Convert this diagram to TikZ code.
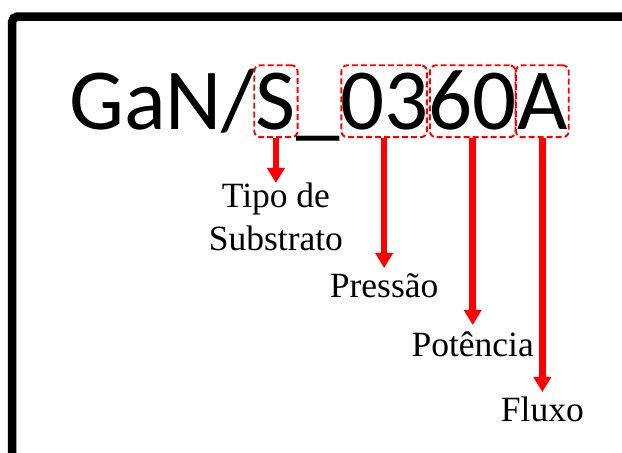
\documentclass[tikz,border=0pt]{standalone}
\usepackage{fontspec}
\setmainfont{Liberation Serif}
\newfontfamily\calib{Carlito}
\usetikzlibrary{arrows.meta,fit}
\tikzset{
  mainch/.style={inner sep=0pt, anchor=base west, text height=62pt, text depth=4.5pt,
    font=\calib\fontsize{87}{87}\selectfont},
  dashbox/.style={draw=red, line width=1.9pt, dash pattern=on 6pt off 3pt,
    rounded corners=6pt, inner xsep=1.5pt, inner ysep=2.5pt},
  lbl/.style={inner sep=0pt, align=center, font=\fontsize{35.5}{43}\selectfont},
  redarrow/.style={draw=red, line width=6.5pt, -{Triangle[width=17pt,length=15pt]}}
}
\begin{document}
\begin{tikzpicture}[x=1pt,y=1pt]
\useasboundingbox (0,0) rectangle (622,453);
\draw[line width=8.5pt, rounded corners=5pt] (12.2,-10) -- (12.2,436.3) -- (640,436.3);
% main text chain
\node[mainch] (gan) at (69,323) {GaN/};
\node[mainch] (s) at (gan.base east) {S};
\node[mainch] (us) at (s.base east) {\_};
\node[mainch] (p03) at (us.base east) {03};
\node[mainch] (p60) at (p03.base east) {60};
\node[mainch] (a) at (p60.base east) {A};
% dashed boxes
\node[dashbox, fit=(s)] (sbox) {};
\node[dashbox, fit=(p03), inner xsep=-1.5pt] (b03) {};
\node[dashbox, fit=(p60), inner xsep=-1.5pt] (b60) {};
\node[dashbox, fit=(a), inner xsep=1pt] (abox) {};
% labels
\node[lbl, anchor=north] (tipo) at (sbox.south |- 0,270) {Tipo de\\Substrato};
\node[lbl, anchor=base] (pres) at (b03.south |- 0,155) {Pressão};
\node[lbl, anchor=base] (pot) at (b60.south |- 0,96) {Potência};
\node[lbl, anchor=base] (flx) at (abox.south |- 0,31) {Fluxo};
\coordinate (tpres) at (b03.south |- 0,185);
\coordinate (tpot) at (b60.south |- 0,128);
\coordinate (tflx) at (abox.south |- 0,61);
% arrows
\draw[redarrow] (sbox.south) -- (tipo.north);
\draw[redarrow] (b03.south) -- (tpres);
\draw[redarrow] (b60.south) -- (tpot);
\draw[redarrow] (abox.south) -- (tflx);
\end{tikzpicture}
\end{document}
